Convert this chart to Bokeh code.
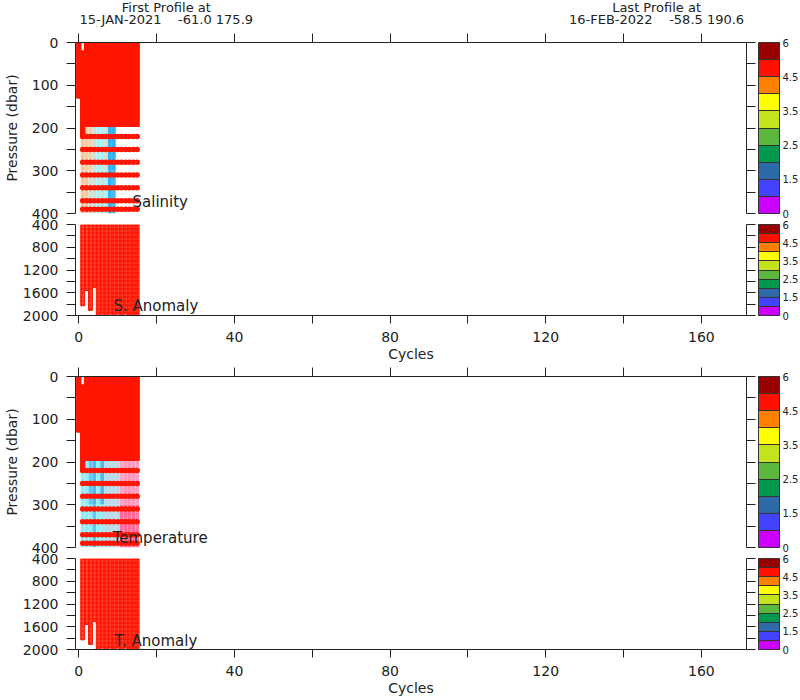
from bokeh.plotting import figure
from bokeh.models import (Range1d, LinearAxis, FixedTicker, ColorBar,
                          LinearColorMapper, Label, ColumnDataSource)
from bokeh.layouts import column
from bokeh.embed import file_html
from bokeh.resources import INLINE
from bokeh.core.properties import value

# ---------------- data ----------------
cycles = list(range(16))
# out-of-scale (red) upper block, per cycle
red_top = [0, 20, 0, 0, 0, 0, 0, 0, 0, 0, 0, 0, 0, 0, 0, 0]
red_bottom = [130, 222, 196, 196, 196, 196, 196, 196, 196, 196, 196, 196, 196, 196, 196, 196]

# red (out of scale) levels below 200 dbar
red_line_p = [220, 250, 280, 310, 340, 370, 390]
red_line_cycles = list(range(1, 16))

# deep (anomaly) panels: per-cycle extent
deep_cycles = list(range(1, 16))
deep_top = [405] * 15
deep_bottom = [1830, 1560, 1910, 1510, 2000, 1975, 2000, 1975, 2000, 1975,
               2000, 1975, 2000, 2000, 2000]

# salinity field 196-400 dbar (two depth bands)
sal_cycles = [1, 2, 3, 4, 5, 6, 7, 8, 9]
sal_upper = ["#f7c89c", "#f4cfa8", "#f4cfa8", "#cfe2d3", "#a8f4fc", "#a8f4fc", "#cfe2d3", "#33b4f0", "#33b4f0"]
sal_lower = ["#f7c89c", "#f4cba0", "#cfe2d3", "#cfe2d3", "#a8f4fc", "#c4e4d8", "#a8f4fc", "#33b4f0", "#4cbef2"]

# temperature field 196-400 dbar (two depth bands)
temp_cycles = list(range(1, 16))
temp_upper = ["#8feffb", "#8feffb", "#5fc8f3", "#4cbcf0", "#8feffb", "#4cbcf0", "#b8dce9", "#b8dce9",
              "#b8dce9", "#c0d8e6", "#ffa3c2", "#ff9bbd", "#ff98ba", "#ff9bbd", "#ffa3c2"]
temp_lower = ["#8feffb", "#8feffb", "#8feffb", "#5fc8f3", "#8feffb", "#8feffb", "#b8dce9", "#b8dce9",
              "#b8dce9", "#c0d8e6", "#ff6f9c", "#ff6a98", "#ff6a98", "#ff6f9c", "#ff7aa4"]

band_edges = [196, 300, 400]

# colour-bar
cbar_colors = ["#cc00ff", "#4444ff", "#2c6aa8", "#00994d", "#5cb83c",
               "#c4e21e", "#ffff00", "#ff8000", "#ff1000", "#990000"]
cbar_major = [0, 2, 4, 6, 8, 10]
cbar_minor = [1, 3, 5, 7, 9]
cbar_labels = ["0", "1.5", "2.5", "3.5", "4.5", "6"]

x_major = [0, 40, 80, 120, 160]
x_minor = [20, 60, 100, 140]
x_all = list(range(0, 161, 20))
p_upper_major = [0, 100, 200, 300, 400]
p_upper_minor = [50, 150, 250, 350]
p_lower_major = [400, 800, 1200, 1600, 2000]
p_lower_minor = [600, 1000, 1400, 1800]

NB = "\u00a0"
header_x = [23, 149]
header_line1 = ["First Profile at", "Last Profile at"]
header_line2 = ["15-JAN-2021" + NB * 4 + "-61.0" + NB + "175.9",
                "16-FEB-2022" + NB * 4 + "-58.5" + NB + "190.6"]

panel_names = ["Salinity", "S. Anomaly", "Temperature", "T. Anomaly"]
panel_name_x = [13.8, 8.9, 8.7, 9.2]
panel_name_y = [374, 1826, 377, 1842]

RED = "#ff1500"
FONT = "DejaVu Sans"
INK = "#222222"
X_RANGE = (-0.85, 171.6)
LEFT = 73
FW = 671


def style_axis(ax, major, minor, tick_out=9, standoff=8):
    ax.ticker = FixedTicker(ticks=major, minor_ticks=minor)
    ax.major_tick_out = tick_out
    ax.major_tick_in = 0
    ax.minor_tick_out = tick_out
    ax.minor_tick_in = 0
    ax.minor_tick_line_color = INK
    ax.axis_line_color = INK
    ax.major_tick_line_color = INK
    ax.major_label_text_font = FONT
    ax.major_label_text_font_size = "14px"
    ax.major_label_text_color = INK
    ax.major_label_standoff = standoff
    ax.axis_label_text_font = FONT
    ax.axis_label_text_font_size = "14px"
    ax.axis_label_text_font_style = "normal"
    ax.axis_label_text_color = INK


def blank_axis(ax, ticks):
    # tick marks only (no labels): all ticks are minor ticks
    ax.ticker = FixedTicker(ticks=[], minor_ticks=ticks)
    ax.major_label_standoff = 0
    ax.major_tick_out = 9
    ax.major_tick_in = 0
    ax.minor_tick_out = 9
    ax.minor_tick_in = 0
    ax.minor_tick_line_color = INK
    ax.major_tick_line_color = None
    ax.axis_line_color = INK


def add_right_side(p, h, ticks):
    ra = LinearAxis()
    blank_axis(ra, ticks)
    p.add_layout(ra, "right")
    mapper = LinearColorMapper(palette=cbar_colors, low=0, high=10)
    cb = ColorBar(color_mapper=mapper,
                  ticker=FixedTicker(ticks=cbar_major, minor_ticks=cbar_minor),
                  major_label_overrides=dict(zip(cbar_major, cbar_labels)),
                  width=21, height=h, padding=0, margin=0, label_standoff=3,
                  location=(3, 0),
                  major_tick_in=21, major_tick_out=0, major_tick_line_color="#333333",
                  minor_tick_in=21, minor_tick_out=0, minor_tick_line_color="#333333",
                  bar_line_color="#333333",
                  major_label_text_font=FONT, major_label_text_font_size="10px",
                  major_label_text_color=INK, border_line_color=None,
                  background_fill_alpha=0)
    p.add_layout(cb, "right")


def base(h, ylo, yhi, xloc, top, bottom):
    p = figure(frame_width=FW, frame_height=h, x_range=Range1d(*X_RANGE),
               y_range=Range1d(ylo, yhi), x_axis_location=xloc,
               output_backend="svg", toolbar_location=None,
               min_border_left=LEFT, min_border_right=56,
               min_border_top=top, min_border_bottom=bottom)
    p.grid.visible = False
    p.outline_line_color = None
    return p


def upper_panel(var_cycles, up_cols, lo_cols, k, top):
    p = base(171, 400, 0, "above", top, 12)
    blank_axis(p.xaxis[0], x_all)
    style_axis(p.yaxis[0], p_upper_major, p_upper_minor)
    p.yaxis[0].axis_label = "Pressure (dbar)"
    p.yaxis[0].axis_label_standoff = 9
    add_right_side(p, 171, p_upper_major + p_upper_minor)

    n = len(var_cycles)
    src_up = ColumnDataSource(dict(l=[c - 0.5 for c in var_cycles], r=[c + 0.5 for c in var_cycles],
                                   t=[band_edges[0]] * n, b=[band_edges[1]] * n, c=up_cols))
    src_lo = ColumnDataSource(dict(l=[c - 0.5 for c in var_cycles], r=[c + 0.5 for c in var_cycles],
                                   t=[band_edges[1]] * n, b=[band_edges[2]] * n, c=lo_cols))
    p.quad(left="l", right="r", top="t", bottom="b", fill_color="c", line_color=None, source=src_up)
    p.quad(left="l", right="r", top="t", bottom="b", fill_color="c", line_color=None, source=src_lo)

    src_red = ColumnDataSource(dict(l=[c - 0.5 for c in cycles], r=[c + 0.5 for c in cycles],
                                    t=red_top, b=red_bottom))
    p.quad(left="l", right="r", top="t", bottom="b", fill_color=RED, line_color=RED,
           line_width=1.5, source=src_red)

    for pr in red_line_p:
        p.line(x=red_line_cycles, y=[pr] * len(red_line_cycles), line_color=RED, line_width=3.5)
        p.scatter(x=red_line_cycles, y=[pr] * len(red_line_cycles), size=5.5,
                  fill_color=RED, line_color=None)

    p.add_layout(Label(x=panel_name_x[k], y=panel_name_y[k], text=panel_names[k], text_font=FONT,
                       text_font_size="15px", text_color=INK, text_baseline="middle",
                       text_align="left"))
    return p


def lower_panel(k):
    p = base(91, 2000, 400, "below", 12, 50)
    p.margin = (-13, 0, 0, 0)
    p.border_fill_color = None
    style_axis(p.xaxis[0], x_major, x_minor, tick_out=8, standoff=8)
    p.xaxis[0].axis_label = "Cycles"
    p.xaxis[0].axis_label_standoff = 1
    style_axis(p.yaxis[0], p_lower_major, p_lower_minor)
    add_right_side(p, 91, p_lower_major + p_lower_minor)

    src = ColumnDataSource(dict(l=[c - 0.5 for c in deep_cycles], r=[c + 0.5 for c in deep_cycles],
                                t=deep_top, b=deep_bottom))
    p.quad(left="l", right="r", top="t", bottom="b", fill_color=RED, line_color=RED,
           line_width=1, hatch_pattern="+", hatch_color="#ffffff", hatch_alpha=0.35,
           hatch_scale=4, hatch_weight=0.6, source=src)
    p.add_layout(Label(x=panel_name_x[k], y=panel_name_y[k], text=panel_names[k], text_font=FONT,
                       text_font_size="15px", text_color=INK, text_baseline="middle",
                       text_align="left"))
    return p


# header strip (same x scale as the panels, spanning the whole page width)
px_per_unit = FW / (X_RANGE[1] - X_RANGE[0])
hx0 = X_RANGE[0] - LEFT / px_per_unit
hx1 = hx0 + 800 / px_per_unit
p0 = figure(frame_width=800, frame_height=32, x_range=Range1d(hx0, hx1), y_range=Range1d(0, 32),
            x_axis_type=None, y_axis_type=None, output_backend="svg", toolbar_location=None,
            min_border_left=0, min_border_right=0, min_border_top=0, min_border_bottom=0)
p0.frame_align = False
p0.grid.visible = False
p0.outline_line_color = None
p0.text(x=header_x, y=[25, 25], text=header_line1, text_align="center", text_baseline="middle",
        text_font=value(FONT), text_font_size=value("13px"), text_color=INK)
p0.text(x=header_x, y=[13, 13], text=header_line2, text_align="center", text_baseline="middle",
        text_font=value(FONT), text_font_size=value("13px"), text_color=INK)

p1 = upper_panel(sal_cycles, sal_upper, sal_lower, 0, 10)
p2 = lower_panel(1)
p3 = upper_panel(temp_cycles, temp_upper, temp_lower, 2, 11)
p4 = lower_panel(3)

layout = column(p0, p1, p2, p3, p4, spacing=0)
open("out.html", "w").write(file_html(layout, INLINE))
